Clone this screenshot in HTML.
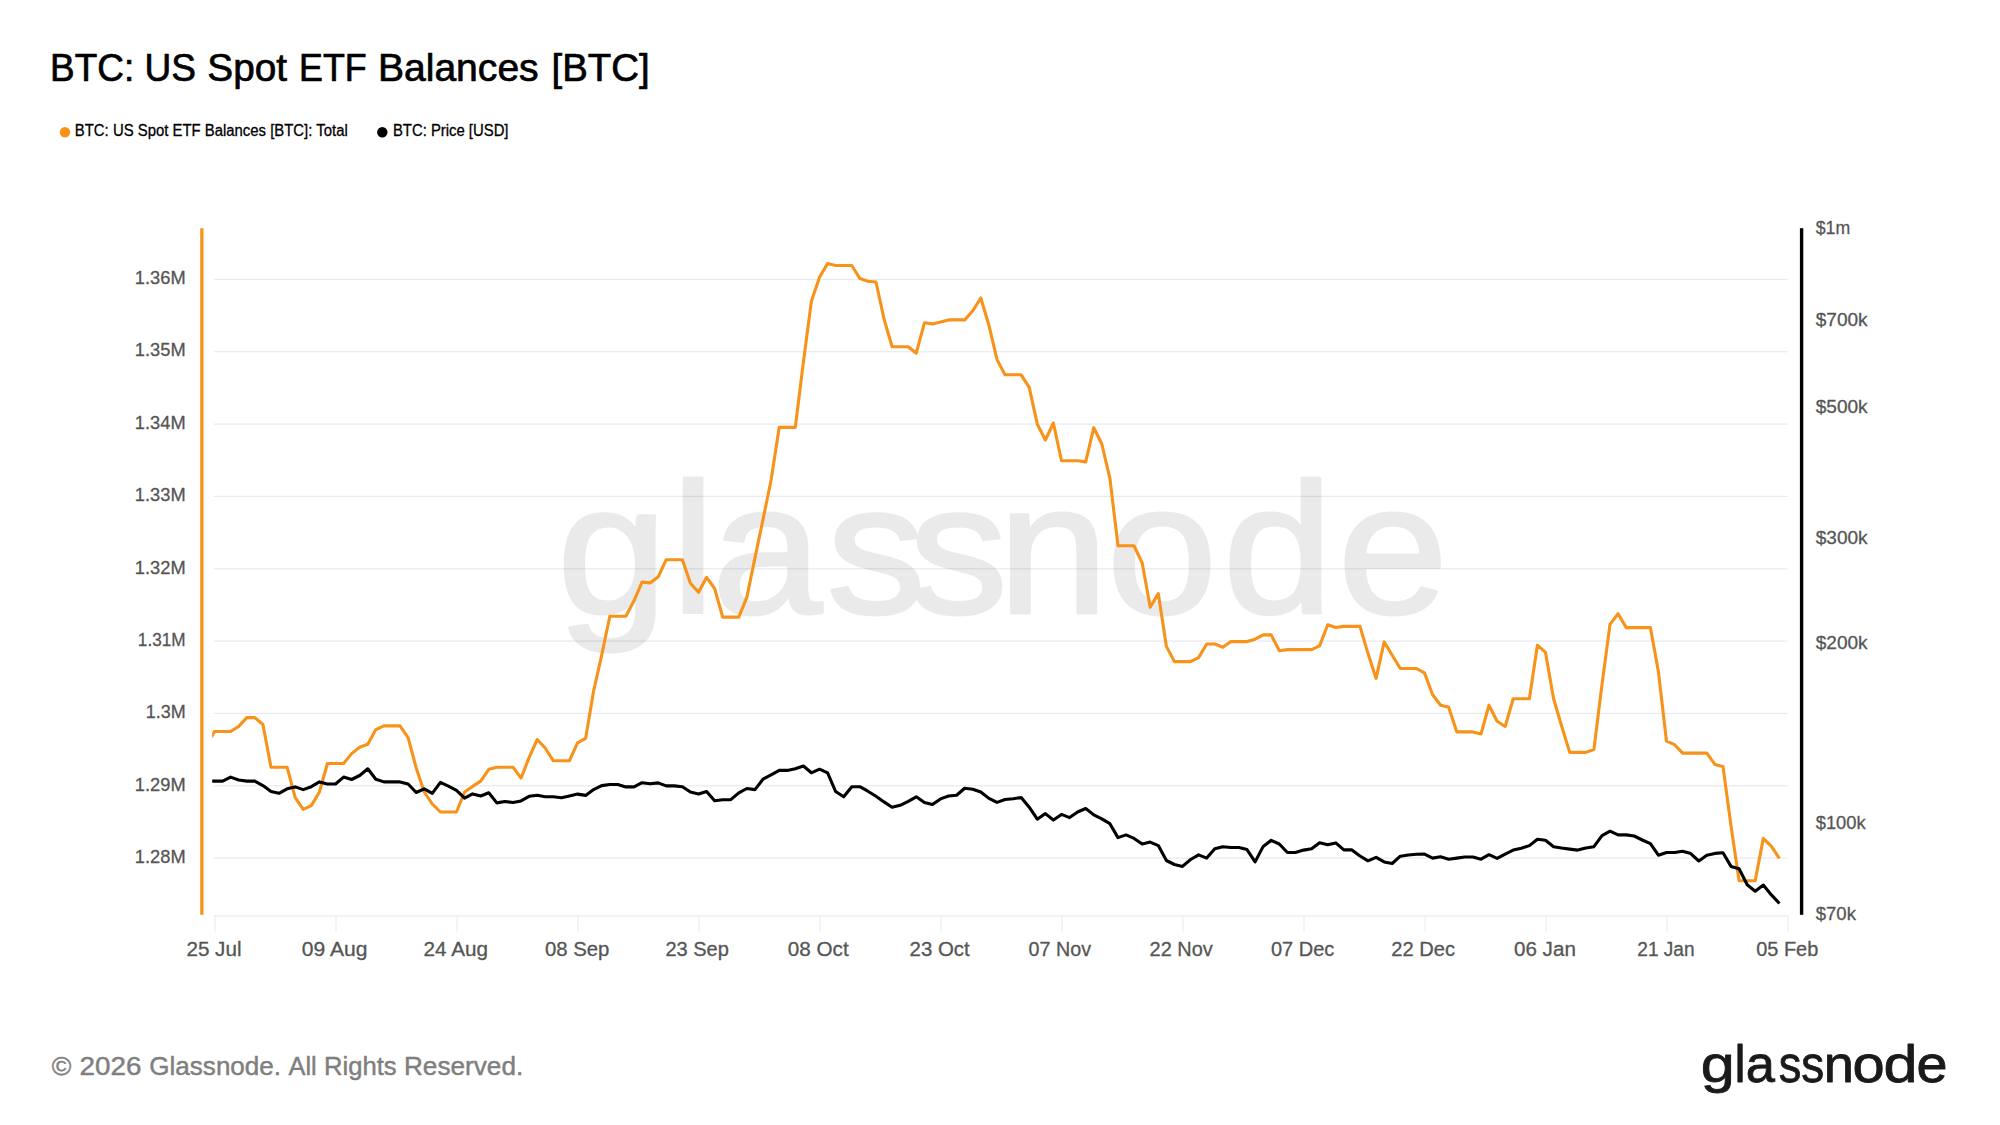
<!DOCTYPE html>
<html><head><meta charset="utf-8"><title>BTC: US Spot ETF Balances [BTC]</title>
<style>
html,body{margin:0;padding:0;background:#fff;}
body{width:2000px;height:1125px;position:relative;overflow:hidden;font-family:"Liberation Sans",sans-serif;}
svg text{font-family:"Liberation Sans",sans-serif;}
</style></head><body>
<svg width="2000" height="1125" viewBox="0 0 2000 1125" style="position:absolute;left:0;top:0">
<rect x="214" y="278.80" width="1573.4" height="1.2" fill="#e8eaef"/>
<rect x="214" y="351.14" width="1573.4" height="1.2" fill="#e8eaef"/>
<rect x="214" y="423.48" width="1573.4" height="1.2" fill="#e8eaef"/>
<rect x="214" y="495.82" width="1573.4" height="1.2" fill="#e8eaef"/>
<rect x="214" y="568.16" width="1573.4" height="1.2" fill="#e8eaef"/>
<rect x="214" y="640.50" width="1573.4" height="1.2" fill="#e8eaef"/>
<rect x="214" y="712.84" width="1573.4" height="1.2" fill="#e8eaef"/>
<rect x="214" y="785.18" width="1573.4" height="1.2" fill="#e8eaef"/>
<rect x="214" y="857.52" width="1573.4" height="1.2" fill="#e8eaef"/>
<g opacity="0.08"><text id="wm" transform="scale(1.07,1)" x="520.50 627.15 665.13 772.34 849.21 932.81 1034.44 1142.84 1250.28" y="612.8" font-size="185.5" fill="#000" stroke="#000" stroke-width="3" stroke-linejoin="round">glassnode</text></g>
<rect x="213.6" y="915.45" width="1574.8" height="1.1" fill="#e8eaef"/>
<rect x="214.45" y="916" width="1.1" height="16" fill="#ececf0"/>
<text id="xl0" y="956.3" font-size="20.5" fill="#555" stroke="#555" stroke-width="0.3" stroke-linejoin="round"><tspan x="186.41" textLength="55.12" lengthAdjust="spacingAndGlyphs">25 Jul</tspan></text>
<rect x="335.45" y="916" width="1.1" height="16" fill="#ececf0"/>
<text id="xl1" y="956.3" font-size="20.5" fill="#555" stroke="#555" stroke-width="0.3" stroke-linejoin="round"><tspan x="301.84" textLength="65.64" lengthAdjust="spacingAndGlyphs">09 Aug</tspan></text>
<rect x="456.45" y="916" width="1.1" height="16" fill="#ececf0"/>
<text id="xl2" y="956.3" font-size="20.5" fill="#555" stroke="#555" stroke-width="0.3" stroke-linejoin="round"><tspan x="423.53" textLength="64.43" lengthAdjust="spacingAndGlyphs">24 Aug</tspan></text>
<rect x="577.45" y="916" width="1.1" height="16" fill="#ececf0"/>
<text id="xl3" y="956.3" font-size="20.5" fill="#555" stroke="#555" stroke-width="0.3" stroke-linejoin="round"><tspan x="544.96" textLength="64.45" lengthAdjust="spacingAndGlyphs">08 Sep</tspan></text>
<rect x="698.45" y="916" width="1.1" height="16" fill="#ececf0"/>
<text id="xl4" y="956.3" font-size="20.5" fill="#555" stroke="#555" stroke-width="0.3" stroke-linejoin="round"><tspan x="665.44" textLength="63.45" lengthAdjust="spacingAndGlyphs">23 Sep</tspan></text>
<rect x="819.45" y="916" width="1.1" height="16" fill="#ececf0"/>
<text id="xl5" y="956.3" font-size="20.5" fill="#555" stroke="#555" stroke-width="0.3" stroke-linejoin="round"><tspan x="787.84" textLength="60.86" lengthAdjust="spacingAndGlyphs">08 Oct</tspan></text>
<rect x="940.45" y="916" width="1.1" height="16" fill="#ececf0"/>
<text id="xl6" y="956.3" font-size="20.5" fill="#555" stroke="#555" stroke-width="0.3" stroke-linejoin="round"><tspan x="909.52" textLength="60.18" lengthAdjust="spacingAndGlyphs">23 Oct</tspan></text>
<rect x="1061.45" y="916" width="1.1" height="16" fill="#ececf0"/>
<text id="xl7" y="956.3" font-size="20.5" fill="#555" stroke="#555" stroke-width="0.3" stroke-linejoin="round"><tspan x="1028.58" textLength="62.44" lengthAdjust="spacingAndGlyphs">07 Nov</tspan></text>
<rect x="1182.45" y="916" width="1.1" height="16" fill="#ececf0"/>
<text id="xl8" y="956.3" font-size="20.5" fill="#555" stroke="#555" stroke-width="0.3" stroke-linejoin="round"><tspan x="1149.55" textLength="63.17" lengthAdjust="spacingAndGlyphs">22 Nov</tspan></text>
<rect x="1303.45" y="916" width="1.1" height="16" fill="#ececf0"/>
<text id="xl9" y="956.3" font-size="20.5" fill="#555" stroke="#555" stroke-width="0.3" stroke-linejoin="round"><tspan x="1270.97" textLength="63.41" lengthAdjust="spacingAndGlyphs">07 Dec</tspan></text>
<rect x="1424.46" y="916" width="1.1" height="16" fill="#ececf0"/>
<text id="xl10" y="956.3" font-size="20.5" fill="#555" stroke="#555" stroke-width="0.3" stroke-linejoin="round"><tspan x="1391.24" textLength="63.74" lengthAdjust="spacingAndGlyphs">22 Dec</tspan></text>
<rect x="1545.46" y="916" width="1.1" height="16" fill="#ececf0"/>
<text id="xl11" y="956.3" font-size="20.5" fill="#555" stroke="#555" stroke-width="0.3" stroke-linejoin="round"><tspan x="1513.94" textLength="61.95" lengthAdjust="spacingAndGlyphs">06 Jan</tspan></text>
<rect x="1666.46" y="916" width="1.1" height="16" fill="#ececf0"/>
<text id="xl12" y="956.3" font-size="20.5" fill="#555" stroke="#555" stroke-width="0.3" stroke-linejoin="round"><tspan x="1637.29" textLength="57.30" lengthAdjust="spacingAndGlyphs">21 Jan</tspan></text>
<rect x="1787.46" y="916" width="1.1" height="16" fill="#ececf0"/>
<text id="xl13" y="956.3" font-size="20.5" fill="#555" stroke="#555" stroke-width="0.3" stroke-linejoin="round"><tspan x="1756.27" textLength="62.01" lengthAdjust="spacingAndGlyphs">05 Feb</tspan></text>
<rect x="200.2" y="228.2" width="3.3" height="686.6" fill="#f7931a"/>
<rect x="1799.9" y="228.2" width="3.4" height="686.6" fill="#000"/>
<text id="yl1_36M" y="284.1" font-size="18.9" fill="#555" stroke="#555" stroke-width="0.3" stroke-linejoin="round"><tspan x="134.86" textLength="50.79" lengthAdjust="spacingAndGlyphs">1.36M</tspan></text>
<text id="yl1_35M" y="356.4" font-size="18.9" fill="#555" stroke="#555" stroke-width="0.3" stroke-linejoin="round"><tspan x="134.86" textLength="50.79" lengthAdjust="spacingAndGlyphs">1.35M</tspan></text>
<text id="yl1_34M" y="428.8" font-size="18.9" fill="#555" stroke="#555" stroke-width="0.3" stroke-linejoin="round"><tspan x="134.86" textLength="50.79" lengthAdjust="spacingAndGlyphs">1.34M</tspan></text>
<text id="yl1_33M" y="501.1" font-size="18.9" fill="#555" stroke="#555" stroke-width="0.3" stroke-linejoin="round"><tspan x="134.86" textLength="50.79" lengthAdjust="spacingAndGlyphs">1.33M</tspan></text>
<text id="yl1_32M" y="573.5" font-size="18.9" fill="#555" stroke="#555" stroke-width="0.3" stroke-linejoin="round"><tspan x="134.86" textLength="50.79" lengthAdjust="spacingAndGlyphs">1.32M</tspan></text>
<text id="yl1_31M" y="645.8" font-size="18.9" fill="#555" stroke="#555" stroke-width="0.3" stroke-linejoin="round"><tspan x="137.84" textLength="47.72" lengthAdjust="spacingAndGlyphs">1.31M</tspan></text>
<text id="yl1_3M" y="718.1" font-size="18.9" fill="#555" stroke="#555" stroke-width="0.3" stroke-linejoin="round"><tspan x="145.68" textLength="39.94" lengthAdjust="spacingAndGlyphs">1.3M</tspan></text>
<text id="yl1_29M" y="790.5" font-size="18.9" fill="#555" stroke="#555" stroke-width="0.3" stroke-linejoin="round"><tspan x="134.86" textLength="50.79" lengthAdjust="spacingAndGlyphs">1.29M</tspan></text>
<text id="yl1_28M" y="862.8" font-size="18.9" fill="#555" stroke="#555" stroke-width="0.3" stroke-linejoin="round"><tspan x="134.86" textLength="50.79" lengthAdjust="spacingAndGlyphs">1.28M</tspan></text>
<text id="yr1m" y="233.9" font-size="19" fill="#555" stroke="#555" stroke-width="0.3" stroke-linejoin="round"><tspan x="1815.76" textLength="34.46" lengthAdjust="spacingAndGlyphs">$1m</tspan></text>
<text id="yr700k" y="325.9" font-size="19" fill="#555" stroke="#555" stroke-width="0.3" stroke-linejoin="round"><tspan x="1815.75" textLength="51.88" lengthAdjust="spacingAndGlyphs">$700k</tspan></text>
<text id="yr500k" y="412.9" font-size="19" fill="#555" stroke="#555" stroke-width="0.3" stroke-linejoin="round"><tspan x="1815.75" textLength="51.88" lengthAdjust="spacingAndGlyphs">$500k</tspan></text>
<text id="yr300k" y="543.9" font-size="19" fill="#555" stroke="#555" stroke-width="0.3" stroke-linejoin="round"><tspan x="1815.75" textLength="51.88" lengthAdjust="spacingAndGlyphs">$300k</tspan></text>
<text id="yr200k" y="648.9" font-size="19" fill="#555" stroke="#555" stroke-width="0.3" stroke-linejoin="round"><tspan x="1815.75" textLength="51.88" lengthAdjust="spacingAndGlyphs">$200k</tspan></text>
<text id="yr100k" y="828.9" font-size="19" fill="#555" stroke="#555" stroke-width="0.3" stroke-linejoin="round"><tspan x="1815.75" textLength="49.87" lengthAdjust="spacingAndGlyphs">$100k</tspan></text>
<text id="yr70k" y="919.9" font-size="19" fill="#555" stroke="#555" stroke-width="0.3" stroke-linejoin="round"><tspan x="1815.75" textLength="40.17" lengthAdjust="spacingAndGlyphs">$70k</tspan></text>
<clipPath id="cp"><rect x="212.2" y="228" width="1577" height="690"/></clipPath>
<path clip-path="url(#cp)" d="M211.5,737.0 L214.5,731.5 L222.6,731.5 L230.6,731.5 L238.7,726.4 L246.8,717.6 L254.8,717.6 L262.9,724.5 L271.0,767.2 L279.0,767.2 L287.1,767.2 L295.2,797.6 L303.2,809.3 L311.3,805.6 L319.4,792.0 L327.4,763.5 L335.5,763.5 L343.6,763.5 L351.6,753.6 L359.7,747.2 L367.8,744.3 L375.8,729.6 L383.9,725.9 L392.0,725.9 L400.0,725.9 L408.1,737.6 L416.2,768.0 L424.2,792.0 L432.3,804.0 L440.4,812.0 L448.4,812.0 L456.5,812.0 L464.6,792.0 L472.6,786.4 L480.7,781.1 L488.8,769.3 L496.8,767.2 L504.9,767.2 L513.0,767.2 L521.0,778.1 L529.1,757.6 L537.2,739.5 L545.2,748.0 L553.3,760.8 L561.4,760.8 L569.4,760.8 L577.5,742.9 L585.6,738.4 L593.6,691.0 L601.7,655.2 L609.8,616.3 L617.8,616.3 L625.9,616.3 L634.0,600.8 L642.0,582.1 L650.1,582.9 L658.2,576.8 L666.2,559.7 L674.3,559.7 L682.4,559.7 L690.4,583.2 L698.5,592.3 L706.6,577.3 L714.6,588.5 L722.7,617.1 L730.8,617.1 L738.8,617.1 L746.9,597.1 L755.0,557.6 L763.0,519.5 L771.1,480.0 L779.2,427.4 L787.2,427.4 L795.3,427.4 L803.4,362.0 L811.4,301.2 L819.5,277.2 L827.6,263.6 L835.6,265.5 L843.7,265.5 L851.8,265.5 L859.8,278.5 L867.9,281.2 L876.0,282.0 L884.0,318.8 L892.1,346.8 L900.2,346.8 L908.2,346.8 L916.3,353.2 L924.4,322.8 L932.4,323.9 L940.5,322.0 L948.6,319.9 L956.6,319.9 L964.7,319.9 L972.8,310.8 L980.8,298.0 L988.9,325.2 L997.0,359.6 L1005.0,374.8 L1013.1,374.8 L1021.2,374.8 L1029.2,387.4 L1037.3,424.2 L1045.4,440.0 L1053.4,423.0 L1061.5,460.8 L1069.6,460.8 L1077.6,460.8 L1085.7,461.9 L1093.8,427.7 L1101.8,444.0 L1109.9,478.4 L1118.0,545.8 L1126.0,545.8 L1134.1,545.8 L1142.2,563.0 L1150.2,607.2 L1158.3,593.6 L1166.4,646.4 L1174.4,661.6 L1182.5,661.6 L1190.6,661.6 L1198.6,657.6 L1206.7,644.0 L1214.8,644.0 L1222.8,647.2 L1230.9,641.6 L1239.0,641.6 L1247.0,641.6 L1255.1,639.2 L1263.2,634.9 L1271.2,634.9 L1279.3,650.7 L1287.4,649.6 L1295.4,649.6 L1303.5,649.6 L1311.6,649.6 L1319.6,645.9 L1327.7,624.8 L1335.8,627.5 L1343.8,626.4 L1351.9,626.4 L1360.0,626.4 L1368.0,653.6 L1376.1,678.4 L1384.2,641.9 L1392.2,655.2 L1400.3,668.5 L1408.4,668.5 L1416.4,668.5 L1424.5,672.9 L1432.6,694.8 L1440.6,705.2 L1448.7,707.3 L1456.8,731.9 L1464.8,731.9 L1472.9,731.9 L1481.0,734.0 L1489.0,705.2 L1497.1,721.2 L1505.2,726.5 L1513.2,698.8 L1521.3,698.8 L1529.4,698.8 L1537.4,645.2 L1545.5,652.4 L1553.6,698.8 L1561.6,726.0 L1569.7,752.4 L1577.8,752.4 L1585.8,752.4 L1593.9,749.6 L1602.0,684.4 L1610.0,624.4 L1618.1,613.7 L1626.2,627.6 L1634.2,627.6 L1642.3,627.6 L1650.4,627.6 L1658.4,671.6 L1666.5,741.2 L1674.6,744.7 L1682.6,753.1 L1690.7,753.1 L1698.8,753.1 L1706.8,753.1 L1714.9,764.4 L1723.0,766.4 L1731.0,826.0 L1739.1,880.8 L1747.2,880.8 L1755.2,880.8 L1763.3,838.4 L1771.4,846.4 L1779.4,858.4" fill="none" stroke="#f7931a" stroke-width="3.1" stroke-linejoin="round" stroke-linecap="butt"/>
<path clip-path="url(#cp)" d="M211.5,781.1 L214.5,781.1 L222.6,781.1 L230.6,777.1 L238.7,780.0 L246.8,781.1 L254.8,781.1 L262.9,785.6 L271.0,791.5 L279.0,793.3 L287.1,788.8 L295.2,786.9 L303.2,789.6 L311.3,786.7 L319.4,781.9 L327.4,784.0 L335.5,784.0 L343.6,777.1 L351.6,779.5 L359.7,775.5 L367.8,768.8 L375.8,779.2 L383.9,781.9 L392.0,781.9 L400.0,781.9 L408.1,784.0 L416.2,792.5 L424.2,788.8 L432.3,793.3 L440.4,782.4 L448.4,786.1 L456.5,790.4 L464.6,798.1 L472.6,793.9 L480.7,796.0 L488.8,792.8 L496.8,802.9 L504.9,801.5 L513.0,802.5 L521.0,800.9 L529.1,796.3 L537.2,795.2 L545.2,796.8 L553.3,796.8 L561.4,797.8 L569.4,796.0 L577.5,794.1 L585.6,795.4 L593.6,789.6 L601.7,785.6 L609.8,784.5 L617.8,784.5 L625.9,786.9 L634.0,786.9 L642.0,782.7 L650.1,783.7 L658.2,782.9 L666.2,785.9 L674.3,785.9 L682.4,786.7 L690.4,792.0 L698.5,794.1 L706.6,791.5 L714.6,800.8 L722.7,799.7 L730.8,799.7 L738.8,792.8 L746.9,788.5 L755.0,789.6 L763.0,779.2 L771.1,774.9 L779.2,770.4 L787.2,770.4 L795.3,768.8 L803.4,766.0 L811.4,772.8 L819.5,769.2 L827.6,772.8 L835.6,791.5 L843.7,796.8 L851.8,786.7 L859.8,786.7 L867.9,791.2 L876.0,796.3 L884.0,801.9 L892.1,807.2 L900.2,805.3 L908.2,801.3 L916.3,796.8 L924.4,802.4 L932.4,804.5 L940.5,798.9 L948.6,796.0 L956.6,795.2 L964.7,788.3 L972.8,789.3 L980.8,792.0 L988.9,798.4 L997.0,802.4 L1005.0,799.5 L1013.1,798.7 L1021.2,797.6 L1029.2,807.2 L1037.3,819.2 L1045.4,813.6 L1053.4,820.0 L1061.5,814.4 L1069.6,817.6 L1077.6,812.0 L1085.7,808.5 L1093.8,814.9 L1101.8,818.8 L1109.9,823.7 L1118.0,837.6 L1126.0,834.9 L1134.1,838.4 L1142.2,844.0 L1150.2,842.1 L1158.3,845.6 L1166.4,860.5 L1174.4,864.5 L1182.5,866.4 L1190.6,859.5 L1198.6,854.9 L1206.7,858.1 L1214.8,848.8 L1222.8,846.7 L1230.9,847.5 L1239.0,847.5 L1247.0,849.6 L1255.1,861.9 L1263.2,846.4 L1271.2,840.3 L1279.3,844.0 L1287.4,852.5 L1295.4,852.5 L1303.5,850.1 L1311.6,848.8 L1319.6,842.7 L1327.7,844.8 L1335.8,842.9 L1343.8,849.9 L1351.9,849.9 L1360.0,856.0 L1368.0,860.8 L1376.1,857.3 L1384.2,861.9 L1392.2,863.5 L1400.3,856.2 L1408.4,855.0 L1416.4,854.2 L1424.5,854.1 L1432.6,858.1 L1440.6,856.8 L1448.7,859.2 L1456.8,858.1 L1464.8,857.0 L1472.9,857.0 L1481.0,859.2 L1489.0,854.7 L1497.1,858.4 L1505.2,854.1 L1513.2,850.1 L1521.3,848.3 L1529.4,845.6 L1537.4,839.2 L1545.5,840.3 L1553.6,846.7 L1561.6,848.0 L1569.7,849.1 L1577.8,850.1 L1585.8,848.0 L1593.9,846.7 L1602.0,835.7 L1610.0,831.2 L1618.1,834.9 L1626.2,834.9 L1634.2,836.0 L1642.3,840.0 L1650.4,843.7 L1658.4,855.2 L1666.5,852.5 L1674.6,852.5 L1682.6,851.2 L1690.7,853.6 L1698.8,861.0 L1706.8,855.2 L1714.9,853.4 L1723.0,852.8 L1731.0,866.4 L1739.1,868.8 L1747.2,884.8 L1755.2,891.2 L1763.3,885.1 L1771.4,894.9 L1779.4,903.5" fill="none" stroke="#000" stroke-width="3.1" stroke-linejoin="round" stroke-linecap="butt"/>
<text id="title" y="81.2" font-size="38.2" fill="#000" stroke="#000" stroke-width="0.7" stroke-linejoin="round"><tspan x="50.12" textLength="84.10" lengthAdjust="spacingAndGlyphs">BTC:</tspan> <tspan x="144.49" textLength="51.46" lengthAdjust="spacingAndGlyphs">US</tspan> <tspan x="207.39" textLength="79.74" lengthAdjust="spacingAndGlyphs">Spot</tspan> <tspan x="299.01" textLength="67.67" lengthAdjust="spacingAndGlyphs">ETF</tspan> <tspan x="377.95" textLength="160.72" lengthAdjust="spacingAndGlyphs">Balances</tspan> <tspan x="551.51" textLength="98.07" lengthAdjust="spacingAndGlyphs">[BTC]</tspan></text>
<circle cx="64.95" cy="132.3" r="5.2" fill="#f7931a"/>
<text id="leg1" y="136.1" font-size="16.0" fill="#000" stroke="#000" stroke-width="0.3" stroke-linejoin="round"><tspan x="74.84" textLength="272.90" lengthAdjust="spacingAndGlyphs">BTC: US Spot ETF Balances [BTC]: Total</tspan></text>
<circle cx="382.3" cy="132.3" r="5.2" fill="#000"/>
<text id="leg2" y="136.1" font-size="16.0" fill="#000" stroke="#000" stroke-width="0.3" stroke-linejoin="round"><tspan x="392.93" textLength="115.58" lengthAdjust="spacingAndGlyphs">BTC: Price [USD]</tspan></text>
<text id="foot" y="1074.5" font-size="25.4" fill="#7f7f7f" stroke="#7f7f7f" stroke-width="0.45" stroke-linejoin="round"><tspan x="51.82" textLength="19.57" lengthAdjust="spacingAndGlyphs">©</tspan> <tspan x="79.63" textLength="61.87" lengthAdjust="spacingAndGlyphs">2026</tspan> <tspan x="149.32" textLength="131.74" lengthAdjust="spacingAndGlyphs">Glassnode.</tspan> <tspan x="288.48" textLength="28.20" lengthAdjust="spacingAndGlyphs">All</tspan> <tspan x="324.02" textLength="72.68" lengthAdjust="spacingAndGlyphs">Rights</tspan> <tspan x="403.98" textLength="119.29" lengthAdjust="spacingAndGlyphs">Reserved.</tspan></text>
<text id="logo" y="1082" font-size="51.6" fill="#1a1a1a" stroke="#1a1a1a" stroke-width="0.8" stroke-linejoin="round"><tspan x="1700.84" textLength="33.96" lengthAdjust="spacingAndGlyphs">g</tspan><tspan x="1734.42" textLength="11.09" lengthAdjust="spacingAndGlyphs">l</tspan><tspan x="1745.65" textLength="29.20" lengthAdjust="spacingAndGlyphs">a</tspan><tspan x="1778.81" textLength="22.62" lengthAdjust="spacingAndGlyphs">s</tspan><tspan x="1801.21" textLength="22.96" lengthAdjust="spacingAndGlyphs">s</tspan><tspan x="1823.72" textLength="30.17" lengthAdjust="spacingAndGlyphs">n</tspan><tspan x="1852.55" textLength="32.19" lengthAdjust="spacingAndGlyphs">o</tspan><tspan x="1883.56" textLength="33.96" lengthAdjust="spacingAndGlyphs">d</tspan><tspan x="1916.49" textLength="31.05" lengthAdjust="spacingAndGlyphs">e</tspan></text>
</svg>
</body></html>
